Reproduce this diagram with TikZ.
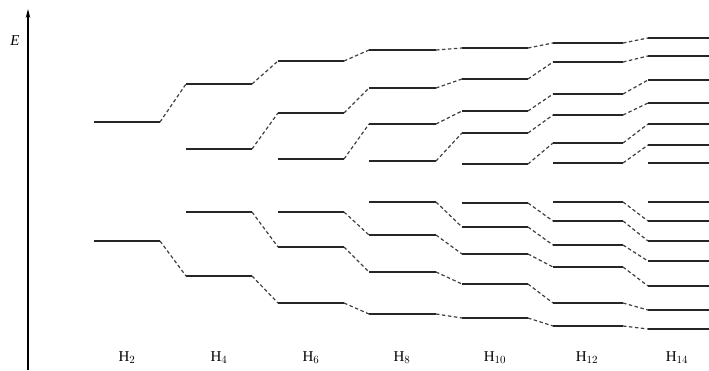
\documentclass[tikz,border=0pt]{standalone}
\usepackage{fontspec}
\setmainfont{Liberation Serif}
\usetikzlibrary{arrows.meta}
\begin{document}
\begin{tikzpicture}[x=1pt,y=-1pt,
  lvl/.style={line width=1.5pt,black!85},
  conn/.style={line width=1.2pt,black!75,dash pattern=on 3.5pt off 2.5pt},
  axis/.style={line width=1.2pt,-{Stealth[length=9pt,width=4.5pt]}},
  lab/.style={font=\fontsize{15}{17}\selectfont,inner sep=0pt}]
\useasboundingbox (0,0) rectangle (709,370);
% axis
\coordinate (ax0) at (28,370);
\coordinate (ax1) at (28,9);
\draw[axis] (ax0) -- (ax1);
\node[lab,font=\fontsize{15}{17}\selectfont\itshape] (E) at (15,41) {E};
% levels
\foreach \c/\xa/\xb/\ys in {
  1/94/160/{122,241},
  2/186/252/{84,149,212,276},
  3/278/344/{61,113,159,212,247,303},
  4/369/436/{50,88,124,161,202,235,272,314},
  5/462/528/{48,79,111,133,164,203,227,254,284,318},
  6/553/623/{43,62,94,115,143,163,202,221,245,267,303,326},
  7/648/709/{38,56,80,103,124,145,163,202,221,241,261,286,310,329}} {
  \foreach \y [count=\k] in \ys {
    \coordinate (L\c-\k-a) at (\xa,\y);
    \coordinate (L\c-\k-b) at (\xb,\y);
    \draw[lvl] (L\c-\k-a) -- (L\c-\k-b);
  }
}
% connectors
\foreach \c in {1,...,6} {
  \pgfmathtruncatemacro{\n}{\c+1}
  \foreach \i in {1,...,\c} {
    \pgfmathtruncatemacro{\lo}{\c+\i}
    \pgfmathtruncatemacro{\lon}{\c+1+\i+1}
    \draw[conn] (L\c-\i-b) -- (L\n-\i-a);
    \draw[conn] (L\c-\lo-b) -- (L\n-\lon-a);
  }
}
% labels
\node[lab] (h2) at (127,358) {H$_2$};
\node[lab] (h4) at (219,358) {H$_4$};
\node[lab] (h6) at (311,358) {H$_6$};
\node[lab] (h8) at (402,358) {H$_8$};
\node[lab] (h10) at (495,358) {H$_{10}$};
\node[lab] (h12) at (587,358) {H$_{12}$};
\node[lab] (h14) at (677,358) {H$_{14}$};
\end{tikzpicture}
\end{document}
